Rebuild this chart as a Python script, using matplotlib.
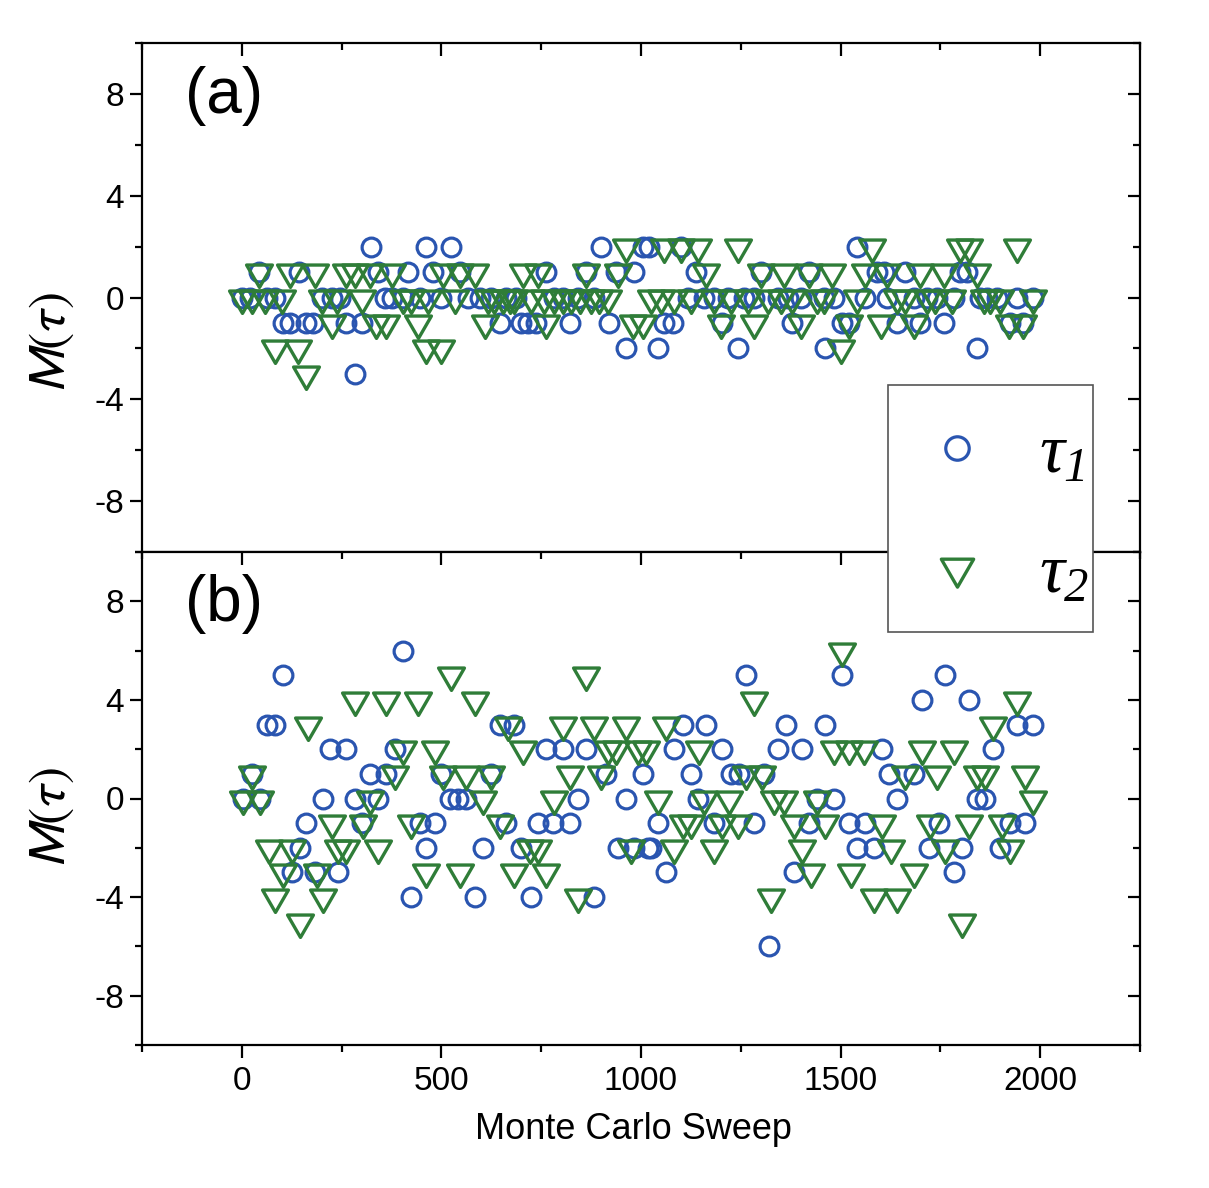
import numpy as np
import matplotlib
matplotlib.use("Agg")
import matplotlib.pyplot as plt
from matplotlib.path import Path
from matplotlib.lines import Line2D
from matplotlib.patches import Rectangle
from matplotlib.ticker import MultipleLocator

# ---------------- data ----------------
# panel (a): tau1 (circles)
a_t1_sweep = [0, 21, 42, 62, 83, 104, 121, 143, 162, 179, 200, 225, 246, 262, 283, 300,
              323, 342, 358, 375, 404, 417, 446, 462, 479, 500, 523, 546, 567, 596, 625,
              646, 662, 687, 700, 717, 737, 762, 783, 804, 821, 842, 862, 883, 900, 921,
              937, 962, 983, 1004, 1021, 1042, 1058, 1079, 1100, 1117, 1137, 1158, 1183,
              1204, 1217, 1242, 1258, 1283, 1300, 1342, 1367, 1379, 1400, 1421, 1458,
              1462, 1483, 1504, 1521, 1542, 1562, 1592, 1608, 1617, 1642, 1662, 1683,
              1700, 1717, 1742, 1758, 1783, 1800, 1817, 1842, 1850, 1867, 1892, 1925,
              1942, 1958, 1983]
a_t1_val = [0, 0, 1, 0, 0, -1, -1, 1, -1, -1, 0, 0, 0, -1, -3, -1,
            2, 1, 0, 0, 0, 1, 0, 2, 1, 0, 2, 1, 0, 0, 0,
            -1, 0, 0, -1, -1, -1, 1, 0, 0, -1, 0, 1, 0, 2, -1,
            1, -2, 1, 2, 2, -2, -1, -1, 2, 0, 1, 0, 0,
            -1, 0, -2, 0, 0, 1, 0, 0, -1, 0, 1, 0,
            -2, 0, -1, -1, 2, 0, 1, 1, 0, -1, 1, 0,
            -1, 0, 0, -1, 0, 1, 1, -2, 0, 0, 0, -1,
            0, -1, 0]
# panel (a): tau2 (triangles)
a_t2_sweep = [0, 25, 42, 58, 83, 100, 121, 142, 162, 183, 200, 225, 238, 262, 283, 300,
              321, 337, 362, 375, 404, 425, 442, 462, 467, 500, 504, 533, 546, 583, 608,
              617, 633, 654, 671, 683, 704, 725, 742, 758, 762, 783, 804, 825, 846, 862,
              875, 896, 917, 942, 962, 979, 1004, 1025, 1050, 1058, 1083, 1100, 1125,
              1142, 1162, 1183, 1200, 1225, 1242, 1267, 1283, 1300, 1317, 1350, 1358,
              1379, 1400, 1421, 1442, 1458, 1479, 1500, 1521, 1542, 1562, 1579, 1600,
              1617, 1642, 1662, 1683, 1700, 1717, 1737, 1758, 1779, 1800, 1821, 1842,
              1858, 1875, 1900, 1921, 1942, 1958, 1983]
a_t2_val = [0, 0, 1, 0, -2, 0, 1, -2, -3, 1, 0, -1, 0, 1, 1, 0,
            1, -1, -1, 1, 0, 0, -1, -2, 0, -2, 1, 0, 1, 1, -1,
            0, 0, 0, 0, 0, 1, 0, 1, 0, -1, 0, 0, 0, 0, 1,
            0, 0, 0, 1, 2, -1, -1, 0, 0, 2, 0, 2, 0,
            2, 1, 0, -1, 0, 2, 0, -1, 1, 0, 0, 1,
            0, -1, 1, 0, 0, 1, -2, -1, 0, 1, 2, -1,
            1, 0, 0, -1, 1, 0, 0, 1, 0, 2, 2, 1,
            0, 0, 0, -1, 2, -1, 0]

# panel (b): tau1 (circles)
b_t1_sweep = [4, 25, 46, 62, 83, 104, 125, 146, 162, 183, 204, 221, 242, 262, 283, 300,
              321, 342, 362, 383, 404, 425, 446, 462, 483, 500, 521, 542, 562, 583, 604,
              625, 646, 662, 683, 700, 725, 742, 762, 779, 804, 821, 842, 862, 883, 912,
              942, 962, 983, 1004, 1017, 1025, 1042, 1062, 1083, 1104, 1125, 1142, 1162,
              1183, 1204, 1225, 1246, 1262, 1283, 1308, 1321, 1342, 1362, 1383, 1404,
              1421, 1442, 1462, 1483, 1504, 1521, 1542, 1562, 1583, 1604, 1621, 1642,
              1683, 1704, 1721, 1746, 1762, 1783, 1804, 1821, 1842, 1862, 1883, 1900,
              1925, 1942, 1962, 1983]
b_t1_val = [0, 1, 0, 3, 3, 5, -3, -2, -1, -3, 0, 2, -3, 2, 0, -1,
            1, 0, 1, 2, 6, -4, -1, -2, -1, 1, 0, 0, 0, -4, -2,
            1, 3, -1, 3, -2, -4, -1, 2, -1, 2, -1, 0, 2, -4, 1,
            -2, 0, -2, 1, -2, -2, -1, -3, 2, 3, 1, 0, 3,
            -1, 2, 1, 1, 5, -1, 1, -6, 2, 3, -3, 2,
            -1, 0, 3, 0, 5, -1, -2, -1, -2, 2, 1, 0,
            1, 4, -2, -1, 5, -3, -2, 4, 0, 0, 2, -2,
            -1, 3, -1, 3]
# panel (b): tau2 (triangles)
b_t2_sweep = [4, 25, 46, 67, 83, 104, 125, 146, 165, 188, 204, 225, 242, 262, 283, 304,
              321, 342, 362, 383, 404, 425, 442, 462, 483, 504, 525, 546, 562, 583, 604,
              625, 646, 667, 683, 704, 721, 742, 762, 783, 804, 821, 842, 862, 883, 900,
              917, 937, 962, 975, 992, 1012, 1042, 1062, 1083, 1104, 1125, 1146, 1158,
              1183, 1204, 1221, 1242, 1262, 1283, 1304, 1325, 1333, 1358, 1383, 1404,
              1425, 1442, 1462, 1483, 1504, 1521, 1525, 1558, 1583, 1604, 1625, 1642,
              1662, 1683, 1704, 1725, 1742, 1762, 1783, 1804, 1821, 1842, 1862, 1883,
              1904, 1925, 1942, 1962, 1983]
b_t2_val = [0, 1, 0, -2, -4, -3, -2, -5, 3, -3, -4, -1, -2, -2, 4, -1,
            0, -2, 4, 1, 2, -1, 4, -3, 2, 1, 5, -3, 1, 4, 0,
            1, -1, 3, -3, 2, -2, -2, -3, 0, 3, 1, -4, 5, 3, 1,
            2, 2, 3, -2, 2, 2, 0, 3, -2, -1, -1, 2, 0,
            -2, -1, 0, -1, 1, 4, 1, -4, 0, 0, -1, -2,
            -3, 0, -1, 2, 6, 2, -3, 2, -4, -1, -2, -4,
            1, -3, 2, -1, 1, -2, 2, -5, -1, 1, 1, 3,
            -1, -2, 4, 1, 0]

x_ticks = [0, 500, 1000, 1500, 2000]
y_ticks = [-8, -4, 0, 4, 8]
legend_labels = [r'$\tau_{1}$', r'$\tau_{2}$']

# ---------------- style ----------------
plt.rcParams['font.family'] = ['Liberation Sans', 'DejaVu Sans']
plt.rcParams['mathtext.rm'] = 'Liberation Serif:italic'
plt.rcParams['mathtext.it'] = 'Liberation Serif:italic'
plt.rcParams['mathtext.bf'] = 'Liberation Serif:italic:bold'
blue = '#2A55B0'
green = '#2F7D38'

tri = Path([(-1.0, 0.577), (1.0, 0.577), (0.0, -1.155), (-1.0, 0.577)],
           [Path.MOVETO, Path.LINETO, Path.LINETO, Path.CLOSEPOLY])

circ_kw = dict(linestyle='none', marker='o', markersize=13.5, markerfacecolor='none',
               markeredgecolor=blue, markeredgewidth=2.3)
tri_kw = dict(linestyle='none', marker=tri, markersize=21.5, markerfacecolor='none',
              markeredgecolor=green, markeredgewidth=2.4)

W, H = 1209, 1188
fig = plt.figure(figsize=(W / 100, H / 100), dpi=100)
left, right = 142, 1140
ax_a = fig.add_axes([left / W, 1 - 552 / H, (right - left) / W, (552 - 43) / H])
ax_b = fig.add_axes([left / W, 1 - 1045 / H, (right - left) / W, (1045 - 552) / H])

TS = 24
for ax, (s1, v1, s2, v2), lab in [(ax_a, (a_t1_sweep, a_t1_val, a_t2_sweep, a_t2_val), '(a)'),
                                  (ax_b, (b_t1_sweep, b_t1_val, b_t2_sweep, b_t2_val), '(b)')]:
    ax.plot(s1, v1, **circ_kw, zorder=3)
    ax.plot(s2, v2, **tri_kw, zorder=4)
    ax.set_xlim(-250, 2250)
    ax.set_ylim(-10, 10)
    ax.set_yticks(y_ticks)
    ax.set_yticklabels([str(t) for t in y_ticks])
    ax.yaxis.set_minor_locator(MultipleLocator(2))
    ax.set_xticks(x_ticks)
    ax.xaxis.set_minor_locator(MultipleLocator(250))
    for sp in ax.spines.values():
        sp.set_linewidth(1.6)
    ax.tick_params(axis='y', which='both', left=True, right=True, direction='out',
                   labelsize=TS, width=1.6, pad=4)
    ax.tick_params(axis='y', which='major', length=9)
    ax.tick_params(axis='y', which='minor', length=5)
    ax.tick_params(axis='x', which='both', width=1.6)
    ax.tick_params(axis='x', which='major', length=9)
    ax.tick_params(axis='x', which='minor', length=5)
    ax.set_ylabel(r'$M(\tau)$', fontsize=37, math_fontfamily='stixsans')
    ax.text(0.043, 0.955, lab, transform=ax.transAxes, fontsize=46, va='top', ha='left')

# panel a: top ticks inward, no bottom ticks
ax_a.tick_params(axis='x', which='both', top=True, bottom=False, labelbottom=False,
                 direction='in')
# panel b: top ticks inward, bottom outward
ax_b.tick_params(axis='x', which='both', top=True, bottom=True, direction='out',
                 labelsize=TS, pad=6)
ax_b.set_xlabel('Monte Carlo Sweep', fontsize=26, labelpad=12)
ax_b.xaxis.set_label_coords(0.492, -0.135)

# right-side y ticks inward, top x ticks of (b) inward
for ax in (ax_a, ax_b):
    for t in ax.yaxis.get_major_ticks() + ax.yaxis.get_minor_ticks():
        t.tick2line.set_marker(0)  # TICKLEFT
for t in ax_b.xaxis.get_major_ticks() + ax_b.xaxis.get_minor_ticks():
    t.tick2line.set_marker(3)  # TICKDOWN
ax_a.yaxis.set_label_coords(-0.066, (552 - 342) / 509)
ax_b.yaxis.set_label_coords(-0.066, (1045 - 817) / 493)

# legend frame (spanning both panels) and entries
fig.add_artist(Rectangle((888 / W, 1 - 632 / H), (1093 - 888) / W, (632 - 385) / H,
                         transform=fig.transFigure, facecolor='white',
                         edgecolor='#555555', linewidth=1.2, zorder=9))
handles = [Line2D([], [], **circ_kw), Line2D([], [], **tri_kw)]
leg = fig.legend(handles, legend_labels, loc='upper left',
                 bbox_to_anchor=(888 / W, 1 - 395 / H), bbox_transform=fig.transFigure,
                 frameon=False, borderaxespad=0, markerscale=1.25,
                 handlelength=1.15, handletextpad=0.6, labelspacing=0.8, borderpad=0.42,
                 prop={'family': 'Liberation Serif', 'size': 50})
for txt in leg.get_texts():
    txt.set_math_fontfamily('custom')
leg.set_zorder(10)

fig.savefig('out.png', dpi=100)
